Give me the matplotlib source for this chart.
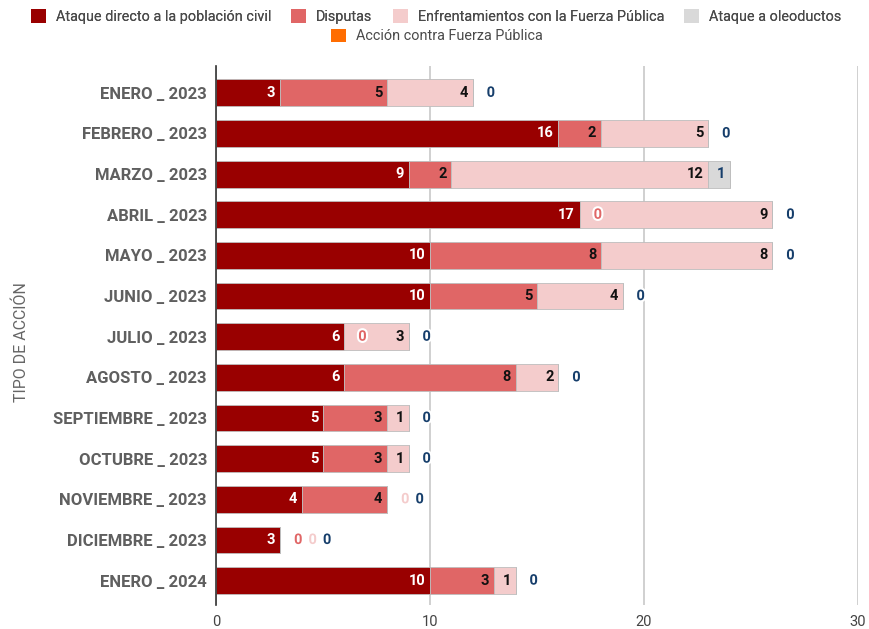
import matplotlib
matplotlib.use("Agg")
import matplotlib.pyplot as plt
import matplotlib.patheffects as pe
from matplotlib.patches import Patch
import numpy as np

plt.rcParams['font.family'] = ['Roboto', 'DejaVu Sans']

months = ["ENERO _ 2023", "FEBRERO _ 2023", "MARZO _ 2023", "ABRIL _ 2023", "MAYO _ 2023",
          "JUNIO _ 2023", "JULIO _ 2023", "AGOSTO _ 2023", "SEPTIEMBRE _ 2023",
          "OCTUBRE _ 2023", "NOVIEMBRE _ 2023", "DICIEMBRE _ 2023", "ENERO _ 2024"]
ataque_civil = [3, 16, 9, 17, 10, 10, 6, 6, 5, 5, 4, 3, 10]
disputas = [5, 2, 2, 0, 8, 5, 0, 8, 3, 3, 4, 0, 3]
enfrentamientos = [4, 5, 12, 9, 8, 4, 3, 2, 1, 1, 0, 0, 1]
oleoductos = [0, 0, 1, 0, 0, 0, 0, 0, 0, 0, 0, 0, 0]
accion = [0, 0, 0, 0, 0, 0, 0, 0, 0, 0, 0, 0, 0]

series_names = ["Ataque directo a la población civil", "Disputas",
                "Enfrentamientos con la Fuerza Pública", "Ataque a oleoductos",
                "Acción contra Fuerza Pública"]
series_vals = [ataque_civil, disputas, enfrentamientos, oleoductos, accion]
colors = ["#990000", "#e06666", "#f4cccc", "#d9d9d9", "#ff6d01"]
in_label_colors = ["white", "#111111", "#111111", "#163e6b", "#111111"]
out_label_colors = ["#990000", "#e06666", "#f4cccc", "#163e6b", None]

W, H = 869, 629
fig = plt.figure(figsize=(W / 100, H / 100), dpi=100)
ax = fig.add_axes([216 / W, (H - 605) / H, (858 - 216) / W, (605 - 66) / H])

y = np.arange(len(months))
left = np.zeros(len(months))
bar_h = 0.66
for s, vals in enumerate(series_vals):
    vals = np.array(vals, dtype=float)
    ax.barh(y, vals, left=left, height=bar_h, color=colors[s],
            edgecolor="#bdbdbd", linewidth=0.6, zorder=3)
    left = left + vals

# labels
halo = [pe.withStroke(linewidth=3, foreground="white")]
for i in range(len(months)):
    base = 0.0
    zero_count = 0
    for s in range(4):
        v = series_vals[s][i]
        if v > 0:
            base += v
            zero_count = 0
            ax.annotate(str(v), xy=(base, i), xytext=(-3.5, 0), textcoords="offset points",
                        ha="right", va="center", fontsize=10.5, fontweight="bold",
                        color=in_label_colors[s], zorder=5)
        else:
            off = 13 + 10.4 * zero_count
            ax.annotate("0", xy=(base, i), xytext=(off, 0), textcoords="offset points",
                        ha="center", va="center", fontsize=10.5, fontweight="bold",
                        color=out_label_colors[s], path_effects=halo, zorder=5)
            zero_count += 1

ax.set_xlim(0, 30)
ax.set_ylim(12.6, -0.66)
ax.set_yticks(y)
ax.set_yticklabels(months, fontsize=12, fontweight="bold", color="#5f5f5f")
ax.set_xticks([0, 10, 20, 30])
ax.set_xticklabels(["0", "10", "20", "30"], fontsize=10.5, color="#444444")
ax.tick_params(axis="both", length=0)
ax.tick_params(axis="x", pad=7)
ax.tick_params(axis="y", pad=6.5)
ax.grid(axis="x", color="#c8c8c8", linewidth=1.2, zorder=0)
ax.set_axisbelow(True)
for sp in ["top", "right", "bottom"]:
    ax.spines[sp].set_visible(False)
ax.spines["left"].set_color("#333333")
ax.spines["left"].set_linewidth(1.2)
ax.spines["left"].set_zorder(4)

fig.text(21.5 / W, 1 - 342 / H, "TIPO DE ACCIÓN", rotation=90,
         ha="center", va="center", fontsize=11.5, color="#666666")

fs = 10.4
fspx = fs * 100 / 72
handles = [Patch(facecolor=c, edgecolor="none") for c in colors]
leg1 = fig.legend(handles[:4], series_names[:4], loc="center", ncol=4,
                  bbox_to_anchor=(436 / W, 1 - 16.5 / H), frameon=False, fontsize=fs,
                  handlelength=15 / fspx, handleheight=15 / fspx, handletextpad=10 / fspx,
                  columnspacing=20 / fspx, borderpad=0, labelcolor="#4a4a4a")
fig.add_artist(leg1)
fig.legend(handles[4:], series_names[4:], loc="center", ncol=1,
           bbox_to_anchor=(437 / W, 1 - 36 / H), frameon=False, fontsize=fs,
           handlelength=15 / fspx, handleheight=15 / fspx, handletextpad=10 / fspx,
           borderpad=0, labelcolor="#4a4a4a")

fig.savefig("out.png", dpi=100)
